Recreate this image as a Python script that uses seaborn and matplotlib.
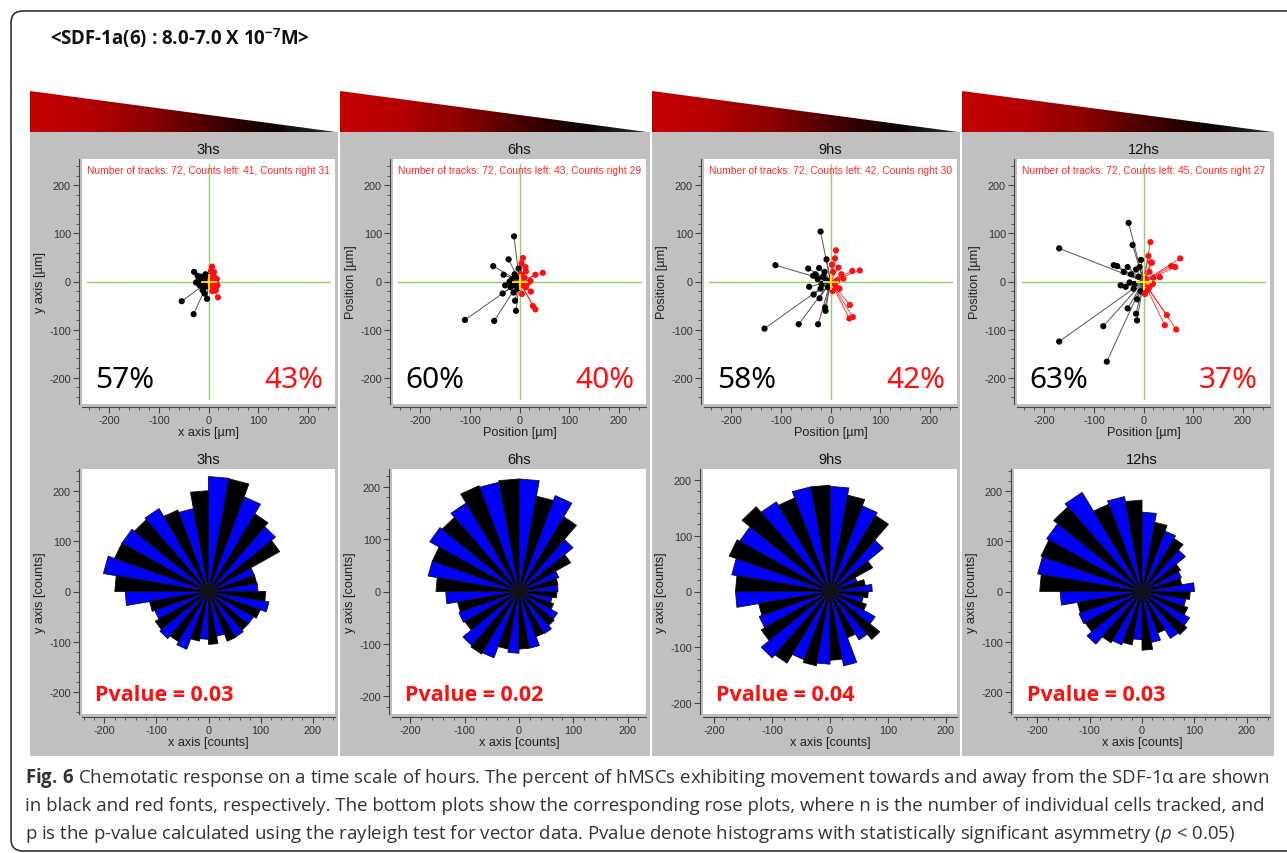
"""
Chemotactic response of hMSCs: track plots and rose plots at 3, 6, 9, 12 h
"""

import numpy as np
import pandas as pd
import matplotlib
matplotlib.use("Agg")
import matplotlib.pyplot as plt
import seaborn as sns
from matplotlib.patches import Rectangle, FancyBboxPatch, Polygon
from matplotlib.colors import LinearSegmentedColormap
from matplotlib.ticker import MultipleLocator

W, H = 1287, 854

times = ["3hs", "6hs", "9hs", "12hs"]
n_tracks = [72, 72, 72, 72]
counts_left = [41, 43, 42, 45]
counts_right = [31, 29, 30, 27]
pct_left = ["57%", "60%", "58%", "63%"]
pct_right = ["43%", "40%", "42%", "37%"]
pvalues = ["0.03", "0.02", "0.04", "0.03"]

# track end points in µm (black = towards left, red = towards right)
left_x_3 = [-54, -30, -29, -3, -8, -12, -15, -20, -10, -6, -18, -25, -14, -4, -9, -5, -22, -11, -3, -16]
left_y_3 = [-41, -68, 20, -36, -25, -18, 10, 4, -5, 15, -8, -2, 0, -10, 3, 5, 12, -12, 12, -3]
right_x_3 = [7, 5, 19, 14, 17, 10, 12, 8, 4, 15, 9, 6, 18, 11, 3, 13]
right_y_3 = [31, 22, -33, -1, 5, 12, -12, -20, -5, -18, 6, -10, -8, 20, 2, 8]

left_x_6 = [-11, -22, -53, -32, -29, -34, -110, -51, -7, -9, -12, -2, -8, -15, -5, -18, -10, -4, -20, -13]
left_y_6 = [94, 46, 32, 14, -8, -25, -80, -82, -61, -40, -23, 27, -5, 5, 10, -12, 15, -15, 0, -8]
right_x_6 = [7, 47, 32, 22, 23, 13, 27, 32, 13, 5, 4, 10, 17, 6, 3, 12]
right_y_6 = [49, 18, 14, 1, -21, -12, -51, -58, 21, -26, 38, 8, -3, -8, 15, 30]

left_x_9 = [-20, -8, -111, -45, -23, -43, -34, -22, -133, -64, -25, -11, -10, -15, -30, -18, -5, -26, -12, -8, -35, -20]
left_y_9 = [104, 46, 34, 27, 28, -11, -27, -35, -98, -89, -89, -54, -61, 10, 15, -5, -12, 5, 20, 2, 12, -15]
right_x_9 = [11, 9, 16, 59, 44, 22, 26, 39, 38, 45, 12, 5, 8, 14, 4, 18, 3]
right_y_9 = [65, 48, 29, 23, 22, 15, 6, -49, -77, -74, -12, 20, -5, 2, -20, -15, 35]

left_x_12 = [-30, -22, -170, -60, -53, -32, -46, -36, -32, -81, -13, -15, -13, -170, -74,
             -5, -8, -25, -40, -18, -10, -28, -20, -6, -15]
left_y_12 = [122, 76, 69, 34, 32, 30, -8, -11, -56, -93, -37, -67, -81, -125, -167,
             45, 30, 15, 20, -5, 10, -2, -15, -20, 25]
right_x_12 = [14, 10, 74, 56, 64, 33, 17, 12, 19, 3, 47, 43, 66, 12, 5, 15, 8, 20]
right_y_12 = [82, 53, 48, 32, 30, 9, 39, 20, -5, -26, -70, -91, -100, -12, 5, 40, -18, 8]

# rose plot counts, 36 bins of 10 degrees starting at 0 deg (east), counter-clockwise
rose_3 = [95, 94, 94, 158, 168, 178, 200, 227, 228, 200, 167, 172, 190, 186, 192, 192, 205, 180,
          160, 115, 110, 118, 122, 115, 122, 100, 95, 105, 90, 105, 104, 100, 100, 106, 118, 110]
rose_6 = [72, 73, 78, 110, 130, 165, 195, 185, 215, 215, 212, 215, 195, 185, 190, 170, 170, 153,
          135, 115, 118, 115, 135, 138, 135, 112, 118, 110, 110, 92, 93, 85, 82, 68, 62, 70]
rose_9 = [73, 62, 50, 85, 120, 157, 163, 175, 188, 190, 190, 178, 185, 198, 180, 185, 172, 163,
          163, 125, 130, 137, 155, 148, 130, 135, 130, 123, 135, 88, 100, 112, 90, 67, 58, 66]
rose_12 = [100, 77, 80, 85, 108, 122, 128, 140, 158, 182, 192, 185, 228, 220, 210, 205, 202, 195,
           156, 125, 128, 125, 137, 118, 113, 108, 96, 117, 103, 88, 108, 112, 105, 93, 85, 92]

tracks = [
    (left_x_3, left_y_3, right_x_3, right_y_3),
    (left_x_6, left_y_6, right_x_6, right_y_6),
    (left_x_9, left_y_9, right_x_9, right_y_9),
    (left_x_12, left_y_12, right_x_12, right_y_12),
]
roses = [rose_3, rose_6, rose_9, rose_12]

caption_lines = [
    r"$\mathbf{Fig.\,6}$ Chemotatic response on a time scale of hours. The percent of hMSCs exhibiting "
    "movement towards and away from the SDF-1α are shown",
    "in black and red fonts, respectively. The bottom plots show the corresponding rose plots, "
    "where n is the number of individual cells tracked, and",
    "p is the p-value calculated using the rayleigh test for vector data. Pvalue denote histograms "
    r"with statistically significant asymmetry ($\mathit{p}$ < 0.05)",
]

# layout (pixels)
col_x0 = [30, 340, 652, 962]
col_x1 = [338, 650, 960, 1274]
wedge_x1 = [336, 647, 958, 1273]
track_box = [(82, 335), (393, 646), (704, 957), (1017, 1270)]
rose_box = [(82, 335), (392, 646), (703, 957), (1014, 1270)]
rose_lim = [243, 234, 219, 244]


def rect(x0, y0, x1, y1):
    return [x0 / W, 1 - y1 / H, (x1 - x0) / W, (y1 - y0) / H]


def style_axes(ax, lim, xlabel, ylabel, title):
    ax.set_facecolor("white")
    ax.set_xlim(-lim, lim)
    ax.set_ylim(-lim, lim)
    ticks = [-200, -100, 0, 100, 200]
    ax.set_xticks(ticks)
    ax.set_yticks(ticks)
    ax.xaxis.set_minor_locator(MultipleLocator(20))
    ax.yaxis.set_minor_locator(MultipleLocator(20))
    for s in ["top", "right"]:
        ax.spines[s].set_visible(False)
    for s in ["left", "bottom"]:
        ax.spines[s].set_position(("outward", 2))
        ax.spines[s].set_color("#444444")
        ax.spines[s].set_linewidth(0.8)
    ax.tick_params(which="major", length=4, width=0.8, color="#444444",
                   labelsize=7.8, labelcolor="#333333", pad=2)
    ax.tick_params(which="minor", length=2.5, width=0.6, color="#444444")
    ax.set_xlabel(xlabel, fontsize=9.2, labelpad=1, color="#222222")
    ax.set_ylabel(ylabel, fontsize=9.2, labelpad=2, color="#222222")
    ax.set_title(title, fontsize=10.5, pad=4, color="#111111")


sns.set_theme(style="ticks")
plt.rcParams["font.family"] = ["Liberation Sans", "DejaVu Sans"]
plt.rcParams["axes.unicode_minus"] = False
plt.rcParams["mathtext.fontset"] = "custom"
plt.rcParams["mathtext.rm"] = "Open Sans"
plt.rcParams["mathtext.it"] = "Open Sans:italic"
plt.rcParams["mathtext.bf"] = "Open Sans:bold"

fig = plt.figure(figsize=(W / 100, H / 100), dpi=100)
fig.patch.set_facecolor("white")

bg = fig.add_axes([0, 0, 1, 1])
bg.axis("off")

# outer rounded frame
bg.add_patch(FancyBboxPatch((11, 12), 1320, 840, boxstyle="round,pad=0,rounding_size=12",
                            ec="#333333", fc="white", lw=1.2, zorder=0.5))

bg.text(50, 38, r"<SDF-1a(6) : 8.0-7.0 X 10$^{\mathbf{-7}}$M>", fontsize=13.5,
        fontweight="bold", family="Open Sans", va="center", ha="left", color="#111111")

grad_cmap = LinearSegmentedColormap.from_list(
    "wedge", ["#c40000", "#b40000", "#8a0000", "#450000", "#0c0000", "#303030"])
gradient = np.linspace(0, 1, 256).reshape(1, -1)

for i in range(4):
    bg.add_patch(Rectangle((col_x0[i], 133), col_x1[i] - col_x0[i], 624,
                           fc="#c0c0c0", ec="none", zorder=1))
    poly = Polygon([(col_x0[i], 92), (wedge_x1[i], 133), (col_x0[i], 133)],
                   closed=True, fc="none", ec="none")
    bg.add_patch(poly)
    im = bg.imshow(gradient, cmap=grad_cmap, aspect="auto", zorder=2,
                   extent=[col_x0[i], wedge_x1[i], 133, 92])
    im.set_clip_path(poly)

for k, line in enumerate(caption_lines):
    bg.text(25, 778 + 28 * k, line, fontsize=13.45, family="Open Sans", color="#333333",
            va="center", ha="left", zorder=3)

bg.set_xlim(0, W)
bg.set_ylim(H, 0)

for i in range(4):
    lx, ly, rx, ry = tracks[i]

    # ---- track plot ----
    ax = fig.add_axes(rect(track_box[i][0], 160, track_box[i][1], 405))
    ax.axhline(0, xmin=0.02, xmax=0.98, color="#8fd16a", lw=1.0, zorder=1)
    ax.axvline(0, ymin=0.02, ymax=0.98, color="#8fd16a", lw=1.0, zorder=1)

    rows = []
    for j, (x, y) in enumerate(zip(lx, ly)):
        rows += [("L", j, 0, 0), ("L", j, x, y)]
    for j, (x, y) in enumerate(zip(rx, ry)):
        rows += [("R", j, 0, 0), ("R", j, x, y)]
    df = pd.DataFrame(rows, columns=["side", "track", "x", "y"])
    df["uid"] = df["side"] + df["track"].astype(str)

    sns.lineplot(data=df[df.side == "L"], x="x", y="y", units="uid", estimator=None,
                 sort=False, color="#555555", lw=0.7, ax=ax, legend=False, zorder=2)
    sns.lineplot(data=df[df.side == "R"], x="x", y="y", units="uid", estimator=None,
                 sort=False, color="#ff2020", lw=0.6, ax=ax, legend=False, zorder=2)
    sns.scatterplot(x=lx, y=ly, color="black", s=20, edgecolor="none", ax=ax, zorder=3)
    sns.scatterplot(x=rx, y=ry, color="#ff1010", s=20, edgecolor="none", ax=ax, zorder=3)
    ax.plot(0, 0, marker="+", color="#ffee00", ms=11, mew=1.3, zorder=4)

    xl = "x axis [µm]" if i == 0 else "Position [µm]"
    yl = "y axis [µm]" if i == 0 else "Position [µm]"
    style_axes(ax, 255, xl, yl, times[i])

    ax.text(0.5, 0.955, f"Number of tracks: {n_tracks[i]}, Counts left: {counts_left[i]}, "
            f"Counts right {counts_right[i]}", transform=ax.transAxes, ha="center",
            va="center", fontsize=7.4, color="#ff2a2a")
    ax.text(0.05, 0.10, pct_left[i], transform=ax.transAxes, ha="left", va="center",
            fontsize=21.5, family="Noto Sans", color="black")
    ax.text(0.953, 0.10, pct_right[i], transform=ax.transAxes, ha="right", va="center",
            fontsize=21.5, family="Noto Sans", color="#ff1010")

    # ---- rose plot ----
    ax2 = fig.add_axes(rect(rose_box[i][0], 470, rose_box[i][1], 715))
    radii = roses[i]
    for b, r in enumerate(radii):
        a0 = np.deg2rad(10 * b)
        a1 = np.deg2rad(10 * (b + 1))
        ax2.fill([0, r * np.cos(a0), r * np.cos(a1)], [0, r * np.sin(a0), r * np.sin(a1)],
                 color="#0000ff" if b % 2 == 0 else "black", ec="#111111", lw=0.6)
    style_axes(ax2, rose_lim[i], "x axis [counts]", "y axis [counts]", times[i])
    ax2.text(0.05, 0.08, f"Pvalue = {pvalues[i]}", transform=ax2.transAxes, ha="left",
             va="center", fontsize=15.5, fontweight="bold", family="Open Sans", color="#ff1010")

fig.savefig("out.png", dpi=100)
